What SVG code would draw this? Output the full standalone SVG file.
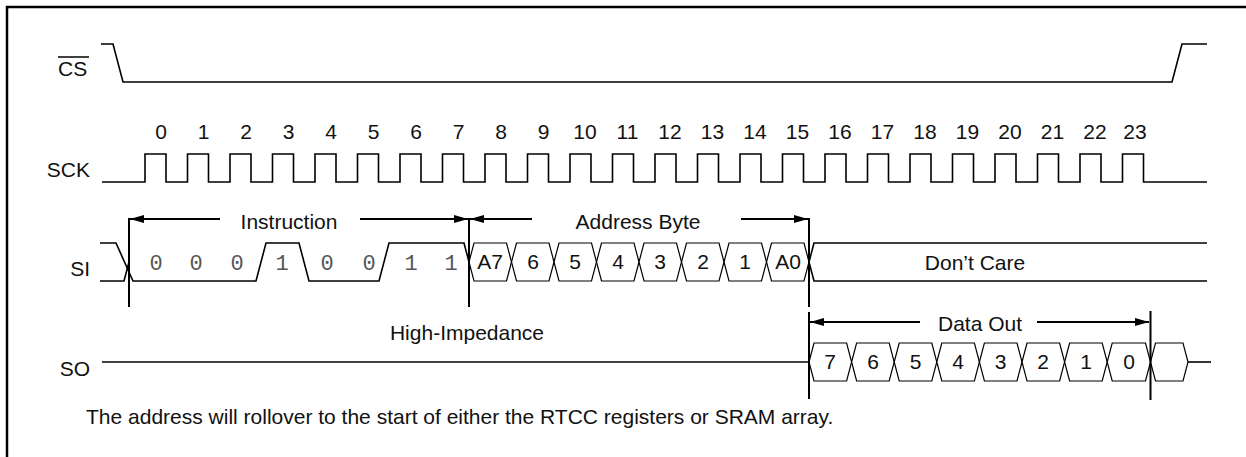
<svg xmlns="http://www.w3.org/2000/svg" width="1246" height="457" viewBox="0 0 1246 457">
<style>
.w{fill:none;stroke:#000;stroke-width:1.6}
.m{stroke:#000;stroke-width:2}
.t{font-family:"Liberation Sans",Arial,sans-serif;font-size:21px;fill:#111}
.c{text-anchor:middle}
.e{text-anchor:end}
.mono{font-family:"Liberation Mono","Courier New",monospace;font-size:22px;fill:#555;text-anchor:middle}
.hx{fill:#fff;stroke:#000;stroke-width:1.2}
.ar{stroke:#000;stroke-width:2;fill:none}
</style>
<defs>
<marker id="ah" viewBox="0 0 14 8" refX="14" refY="4" markerWidth="14" markerHeight="8" markerUnits="userSpaceOnUse" orient="auto-start-reverse">
<path d="M0,0 L14,4 L0,8 Z" fill="#000"/>
</marker>
</defs>
<rect width="1246" height="457" fill="#fff"/>
<path d="M7,470 V7 H1260" fill="none" stroke="#000" stroke-width="2.5"/>

<g id="cs">
<text class="t" x="58" y="76">CS</text>
<line x1="58" y1="57" x2="89" y2="57" stroke="#000" stroke-width="1.5"/>
<polyline class="w" points="101,44 113,44 123,82 1172,82 1182,44 1207,44"/>
</g>

<g id="sck">
<text class="t e" x="90" y="177">SCK</text>
<path class="w" d="M102,182 H145 V154 H166 V182 H187.5 V154 H208.5 V182 H230 V154 H251 V182 H272.5 V154 H293.5 V182 H315 V154 H336 V182 H357.5 V154 H378.5 V182 H400 V154 H421 V182 H442.5 V154 H463.5 V182 H485 V154 H506 V182 H527.5 V154 H548.5 V182 H570 V154 H591 V182 H612.5 V154 H633.5 V182 H655 V154 H676 V182 H697.5 V154 H718.5 V182 H740 V154 H761 V182 H782.5 V154 H803.5 V182 H825 V154 H846 V182 H867.5 V154 H888.5 V182 H910 V154 H931 V182 H952.5 V154 H973.5 V182 H995 V154 H1016 V182 H1037.5 V154 H1058.5 V182 H1080 V154 H1101 V182 H1122.5 V154 H1143.5 V182 H1207"/>
<g class="t c">
<text x="161" y="139">0</text><text x="203.5" y="139">1</text><text x="246" y="139">2</text><text x="288.5" y="139">3</text>
<text x="331" y="139">4</text><text x="373.5" y="139">5</text><text x="416" y="139">6</text><text x="458.5" y="139">7</text>
<text x="501" y="139">8</text><text x="543.5" y="139">9</text><text x="585" y="139">10</text><text x="627.5" y="139">11</text>
<text x="670" y="139">12</text><text x="712.5" y="139">13</text><text x="755" y="139">14</text><text x="797.5" y="139">15</text>
<text x="840" y="139">16</text><text x="882.5" y="139">17</text><text x="925" y="139">18</text><text x="967.5" y="139">19</text>
<text x="1010" y="139">20</text><text x="1052.5" y="139">21</text><text x="1095" y="139">22</text><text x="1135" y="139">23</text>
</g>
</g>

<g id="si">
<text class="t e" x="90" y="276">SI</text>
<path class="w" d="M100,243 H116 L133,281 H256 L266,243 H299 L309,281 H379 L389,243 H464 L469,262"/>
<path class="w" d="M100,281 H124 L129,262"/>
<g class="mono">
<text x="156" y="270">0</text><text x="196" y="270">0</text><text x="237" y="270">0</text><text x="282" y="270">1</text>
<text x="327" y="270">0</text><text x="369" y="270">0</text><text x="411" y="270">1</text><text x="451" y="270">1</text>
</g>
<g id="addr">
<polygon class="hx" points="469,262 474,243 506.5,243 511.5,262 506.5,281 474,281"/>
<polygon class="hx" points="511.5,262 516.5,243 549,243 554,262 549,281 516.5,281"/>
<polygon class="hx" points="554,262 559,243 591.5,243 596.5,262 591.5,281 559,281"/>
<polygon class="hx" points="596.5,262 601.5,243 634,243 639,262 634,281 601.5,281"/>
<polygon class="hx" points="639,262 644,243 676.5,243 681.5,262 676.5,281 644,281"/>
<polygon class="hx" points="681.5,262 686.5,243 719,243 724,262 719,281 686.5,281"/>
<polygon class="hx" points="724,262 729,243 761.5,243 766.5,262 761.5,281 729,281"/>
<polygon class="hx" points="766.5,262 771.5,243 804,243 809,262 804,281 771.5,281"/>
<g class="t c">
<text x="490" y="269">A7</text><text x="533" y="269">6</text><text x="575" y="269">5</text><text x="618" y="269">4</text>
<text x="660" y="269">3</text><text x="703" y="269">2</text><text x="745" y="269">1</text><text x="788" y="269">A0</text>
</g>
</g>
<path class="w" d="M1207,243 H814 L809,262 L814,281 H1207"/>
<text class="t c" x="975" y="270">Don’t Care</text>
</g>

<g id="so">
<text class="t e" x="90" y="376">SO</text>
<path class="w" d="M102,362 H809"/>
<polygon class="hx" points="809,362 814,343 846.6,343 851.6,362 846.6,381 814,381"/>
<polygon class="hx" points="851.6,362 856.6,343 889.2,343 894.2,362 889.2,381 856.6,381"/>
<polygon class="hx" points="894.2,362 899.2,343 931.8,343 936.8,362 931.8,381 899.2,381"/>
<polygon class="hx" points="936.8,362 941.8,343 974.4,343 979.4,362 974.4,381 941.8,381"/>
<polygon class="hx" points="979.4,362 984.4,343 1017,343 1022,362 1017,381 984.4,381"/>
<polygon class="hx" points="1022,362 1027,343 1059.6,343 1064.6,362 1059.6,381 1027,381"/>
<polygon class="hx" points="1064.6,362 1069.6,343 1102.2,343 1107.2,362 1102.2,381 1069.6,381"/>
<polygon class="hx" points="1107.2,362 1112.2,343 1145.5,343 1150.5,362 1145.5,381 1112.2,381"/>
<polygon class="hx" points="1150.5,362 1155.5,343 1183,343 1188,362 1183,381 1155.5,381"/>
<path class="w" d="M1188,362 H1211"/>
<g class="t c">
<text x="830" y="369">7</text><text x="873" y="369">6</text><text x="915.5" y="369">5</text><text x="958" y="369">4</text>
<text x="1000.5" y="369">3</text><text x="1043" y="369">2</text><text x="1086" y="369">1</text><text x="1129" y="369">0</text>
</g>
<text class="t c" x="467" y="340">High-Impedance</text>
</g>

<g id="connectors">
<line class="m" x1="129" y1="218" x2="129" y2="307"/>
<line class="m" x1="469" y1="218" x2="469" y2="307"/>
<line class="m" x1="809" y1="218" x2="809" y2="307"/>
<line class="m" x1="809" y1="312" x2="809" y2="399"/>
<line class="m" x1="1150.5" y1="311" x2="1150.5" y2="400"/>
<line class="ar" x1="220" y1="219" x2="130" y2="219" marker-end="url(#ah)"/>
<line class="ar" x1="360" y1="219" x2="468" y2="219" marker-end="url(#ah)"/>
<line class="ar" x1="532" y1="219" x2="470" y2="219" marker-end="url(#ah)"/>
<line class="ar" x1="741" y1="219" x2="808" y2="219" marker-end="url(#ah)"/>
<line class="ar" x1="920" y1="322" x2="810" y2="322" marker-end="url(#ah)"/>
<line class="ar" x1="1037" y1="322" x2="1149" y2="322" marker-end="url(#ah)"/>
</g>
<g id="labels">
<text class="t c" x="289" y="229">Instruction</text>
<text class="t c" x="638" y="229">Address Byte</text>
<text class="t c" x="980" y="331">Data Out</text>
<text class="t" x="86" y="424">The address will rollover to the start of either the RTCC registers or SRAM array.</text>
</g>
</svg>
